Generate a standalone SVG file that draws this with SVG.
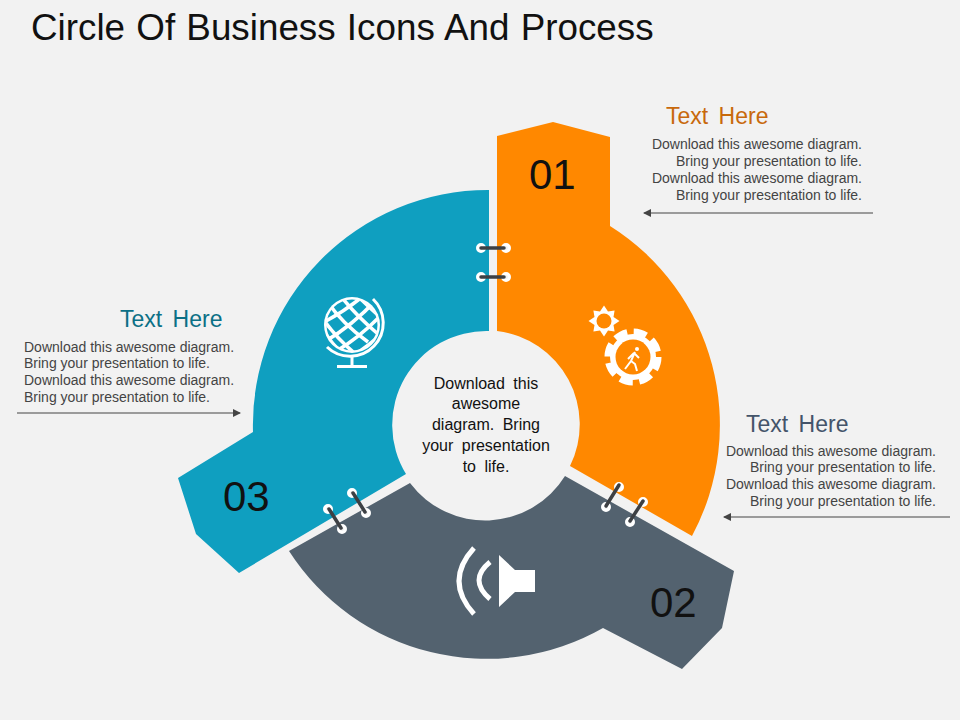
<svg xmlns="http://www.w3.org/2000/svg" width="960" height="720" viewBox="0 0 960 720">
<style>
text{font-family:"Liberation Sans",Arial,sans-serif}
.title{font-size:36.800px;fill:#111;word-spacing:1px}
.head{font-size:23px;word-spacing:4px}
.body{font-size:14px;fill:#444}
.r{text-anchor:end}
.center{font-size:16px;fill:#111;text-anchor:middle;word-spacing:4px}
.num{font-size:42px;fill:#111}
.hole{fill:#f2f2f2;stroke:#fff;stroke-width:3}
.pin{stroke:#3d4044;stroke-width:3.5;stroke-linecap:round;fill:none}
.lead{stroke:#444;stroke-width:1;fill:none;marker-end:url(#arrow)}
.w{fill:none;stroke:#fff}
</style>
<defs>
<marker id="arrow" viewBox="0 0 8 8" refX="7" refY="4" markerWidth="8" markerHeight="8" markerUnits="userSpaceOnUse" orient="auto"><path d="M0 0L8 4L0 8Z" fill="#444"/></marker>
<clipPath id="gc"><circle cx="352" cy="325" r="26"/></clipPath>
</defs>
<rect width="960" height="720" fill="#f2f2f2"/>
<text class="title" x="31" y="40">Circle Of Business Icons And Process</text>

<g id="node-01">
<path d="M497 136L553 122L610 137V226A235 235 0 0 1 692 536L570 466A94 94 0 0 0 497 331Z" fill="#ff8800"/>
<text class="num" x="529" y="189">01</text>
<g id="icon-gears">
<path transform="translate(604,321)" d="M15.500 0L9.500 4L10.600 10.600L4 9.500L0 15.500L-4 9.500L-10.600 10.600L-9.500 4L-15.500 0L-9.500 -4L-10.600 -10.600L-4 -9.500L0 -15.500L4 -9.500L10.600 -10.600L9.500 -4Z" fill="#fff"/>
<circle cx="604" cy="321" r="7.500" fill="#ff8800"/>
<circle cx="633" cy="357" r="23" fill="#fff"/>
<circle cx="633" cy="357" r="25" fill="none" stroke="#fff" stroke-width="7" stroke-dasharray="13 6.630"/>
<circle cx="633" cy="357" r="17.500" fill="#ff8800"/>
<circle cx="637" cy="349" r="2" fill="#fff"/>
<path class="w" stroke-width="2" d="M635 352L631 361L625 369M631 361L635 364L637 371M634 353L639 358M634 353L628 359"/>
</g>
</g>

<g id="node-02">
<path d="M565 476L734 571L722 628L682 669L603 628A235 235 0 0 1 289 551L410 483A94 94 0 0 0 565 476Z" fill="#53626f"/>
<text class="num" x="650" y="617">02</text>
<g id="icon-speaker">
<path d="M499 555L515 570H535V592H515L499 607Z" fill="#fff"/>
<path class="w" stroke-width="5" d="M474 548Q444 581 474 614"/>
<path class="w" stroke-width="5" d="M490 562Q468 580 490 599"/>
</g>
</g>

<g id="node-03">
<path d="M489 190A235 235 0 0 0 253 432L178 478L196 534L239 573L406 474A94 94 0 0 1 489 331Z" fill="#0f9fc0"/>
<text class="num" x="223" y="511">03</text>
<g id="icon-globe">
<circle cx="352" cy="325" r="28" fill="#fff"/>
<circle cx="352" cy="325" r="25.500" fill="#0f9fc0"/>
<g clip-path="url(#gc)" class="w" stroke-width="3.600">
<path d="M318 312Q335 300 350 288M318 325Q345 312 368 292M324 342Q352 326 378 298M335 352Q362 336 384 312M350 358Q370 345 388 328"/>
<path d="M325 298Q340 322 368 342M337 291Q352 312 378 334M318 312Q335 338 358 356M350 288Q366 305 386 322M322 328Q332 345 345 356"/>
</g>
<path class="w" stroke-width="3" d="M373 299A33 33 0 0 1 327 347"/>
<path class="w" stroke-width="3" d="M352 357V366M337 366.500H367"/>
</g>
</g>

<g id="node-center">
<text class="center" x="486" y="389">Download this</text>
<text class="center" x="486" y="409">awesome</text>
<text class="center" x="486" y="430">diagram. Bring</text>
<text class="center" x="486" y="451">your presentation</text>
<text class="center" x="486" y="472">to life.</text>
</g>

<g id="connectors">
<circle class="hole" cx="481" cy="248" r="3.500"/><circle class="hole" cx="506" cy="248" r="3.500"/>
<path class="pin" d="M481 248H504"/>
<circle class="hole" cx="481" cy="277" r="3.500"/><circle class="hole" cx="506" cy="277" r="3.500"/>
<path class="pin" d="M481 277H504"/>
<circle class="hole" cx="328" cy="509" r="3.500"/><circle class="hole" cx="342" cy="529" r="3.500"/>
<path class="pin" d="M329 509L341 528"/>
<circle class="hole" cx="352" cy="493" r="3.500"/><circle class="hole" cx="366" cy="513" r="3.500"/>
<path class="pin" d="M353 493L365 512"/>
<circle class="hole" cx="619" cy="487" r="3.500"/><circle class="hole" cx="606" cy="507" r="3.500"/>
<path class="pin" d="M619 485L606 506"/>
<circle class="hole" cx="643" cy="502" r="3.500"/><circle class="hole" cx="630" cy="522" r="3.500"/>
<path class="pin" d="M643 501L630 521"/>
<path class="lead" d="M873 213H644"/>
<path class="lead" d="M950 517H724"/>
<path class="lead" d="M17 413H240"/>
</g>

<g id="label-01">
<text class="head" x="666" y="124" fill="#c8690c">Text Here</text>
<text class="body r" x="862" y="149">Download this awesome diagram.</text>
<text class="body r" x="862" y="166">Bring your presentation to life.</text>
<text class="body r" x="862" y="183">Download this awesome diagram.</text>
<text class="body r" x="862" y="200">Bring your presentation to life.</text>
</g>
<g id="label-02">
<text class="head" x="746" y="432" fill="#44546a">Text Here</text>
<text class="body r" x="936" y="456">Download this awesome diagram.</text>
<text class="body r" x="936" y="472">Bring your presentation to life.</text>
<text class="body r" x="936" y="489">Download this awesome diagram.</text>
<text class="body r" x="936" y="506">Bring your presentation to life.</text>
</g>
<g id="label-03">
<text class="head" x="120" y="327" fill="#0c7086">Text Here</text>
<text class="body" x="24" y="352">Download this awesome diagram.</text>
<text class="body" x="24" y="368">Bring your presentation to life.</text>
<text class="body" x="24" y="385">Download this awesome diagram.</text>
<text class="body" x="24" y="402">Bring your presentation to life.</text>
</g>
</svg>
